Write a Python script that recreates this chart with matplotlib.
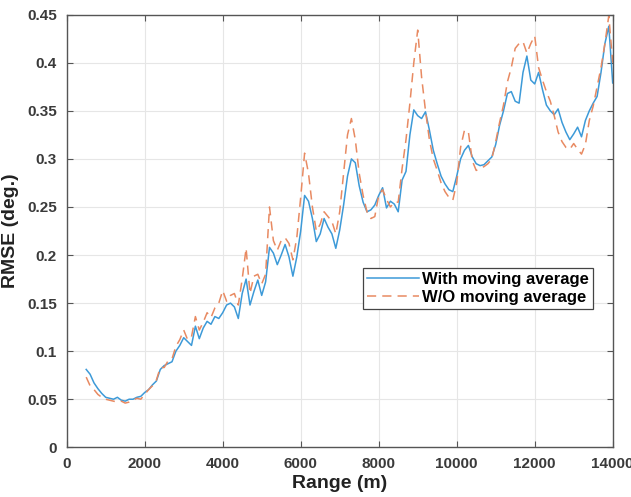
import numpy as np
import matplotlib
matplotlib.use('Agg')
import matplotlib.pyplot as plt

plt.rcParams['font.family'] = ['Liberation Sans', 'DejaVu Sans']

# range axis (m)
rng = np.arange(500, 14001, 100)

rmse_ma = [
    0.081, 0.076, 0.067, 0.061, 0.056, 0.052, 0.051, 0.050, 0.052, 0.049,
    0.048, 0.050, 0.050, 0.052, 0.053, 0.057, 0.060, 0.065, 0.069, 0.081,
    0.085, 0.087, 0.089, 0.100, 0.106, 0.114, 0.110, 0.106, 0.126, 0.113,
    0.124, 0.131, 0.128, 0.136, 0.134, 0.140, 0.148, 0.150, 0.146, 0.134,
    0.160, 0.175, 0.148, 0.162, 0.174, 0.158, 0.172, 0.208, 0.202, 0.190,
    0.200, 0.211, 0.198, 0.178, 0.198, 0.225, 0.262, 0.256, 0.238, 0.214,
    0.222, 0.238, 0.229, 0.222, 0.207, 0.226, 0.252, 0.282, 0.300, 0.296,
    0.272, 0.255, 0.245, 0.247, 0.252, 0.262, 0.270, 0.249, 0.256, 0.253,
    0.245, 0.278, 0.287, 0.325, 0.351, 0.345, 0.342, 0.349, 0.330, 0.309,
    0.295, 0.282, 0.274, 0.268, 0.266, 0.282, 0.300, 0.309, 0.314, 0.302,
    0.295, 0.293, 0.294, 0.298, 0.302, 0.315, 0.335, 0.350, 0.368, 0.370,
    0.360, 0.358, 0.390, 0.407, 0.382, 0.378, 0.390, 0.372, 0.356, 0.350,
    0.346, 0.352, 0.338, 0.328, 0.320, 0.326, 0.333, 0.323, 0.340, 0.350,
    0.358, 0.365, 0.390, 0.420, 0.438, 0.379,
]

rmse_raw = [
    0.073, 0.064, 0.060, 0.055, 0.052, 0.050, 0.049, 0.048, 0.047, 0.048,
    0.046, 0.047, 0.049, 0.051, 0.050, 0.055, 0.060, 0.064, 0.070, 0.083,
    0.083, 0.090, 0.092, 0.105, 0.112, 0.122, 0.112, 0.115, 0.136, 0.122,
    0.130, 0.140, 0.135, 0.145, 0.150, 0.163, 0.152, 0.158, 0.160, 0.148,
    0.175, 0.207, 0.160, 0.178, 0.180, 0.170, 0.180, 0.250, 0.215, 0.205,
    0.215, 0.218, 0.212, 0.195, 0.218, 0.260, 0.306, 0.285, 0.250, 0.225,
    0.232, 0.245, 0.240, 0.235, 0.222, 0.245, 0.285, 0.325, 0.342, 0.320,
    0.285, 0.262, 0.245, 0.238, 0.240, 0.262, 0.268, 0.258, 0.250, 0.255,
    0.255, 0.290, 0.320, 0.358, 0.400, 0.434, 0.385, 0.350, 0.320, 0.300,
    0.288, 0.275, 0.266, 0.260, 0.257, 0.275, 0.312, 0.330, 0.328, 0.298,
    0.288, 0.290, 0.292, 0.295, 0.300, 0.318, 0.338, 0.356, 0.380, 0.395,
    0.415, 0.420, 0.422, 0.410, 0.420, 0.428, 0.395, 0.382, 0.370, 0.360,
    0.345, 0.328, 0.318, 0.312, 0.310, 0.316, 0.310, 0.305, 0.315, 0.340,
    0.355, 0.375, 0.395, 0.420, 0.449, 0.400,
]

fig = plt.figure(figsize=(6.31, 4.97), dpi=100)
ax = fig.add_axes([0.1057, 0.1, 0.8653, 0.8704])

ax.plot(rng, rmse_ma, color='#3d9ad8', lw=1.1, label='With moving average')
ax.plot(rng, rmse_raw, color='#e88a62', lw=1.1, ls=(0, (6, 4)),
        label='W/O moving average')

ax.set_xlim(0, 14000)
ax.set_ylim(0, 0.45)
ax.set_xticks(np.arange(0, 14001, 2000))
ax.set_yticks(np.arange(0, 0.451, 0.05))
ax.set_yticklabels(['0', '0.05', '0.1', '0.15', '0.2', '0.25', '0.3', '0.35', '0.4', '0.45'])

ax.grid(True, color='#e6e6e6', lw=0.8)
ax.set_axisbelow(True)
ax.tick_params(direction='in', top=True, right=True, length=4, color='#555555',
               labelsize=11, labelcolor='#3a3a3a', pad=7)
for lbl in ax.get_xticklabels() + ax.get_yticklabels():
    lbl.set_fontweight('bold')
for s in ax.spines.values():
    s.set_color('#555555')
    s.set_linewidth(1.0)

ax.set_xlabel('Range (m)', fontsize=14, fontweight='bold', labelpad=3, color='#222222')
ax.set_ylabel('RMSE (deg.)', fontsize=14, fontweight='bold', labelpad=6, color='#222222')

leg = ax.legend(loc='upper right', bbox_to_anchor=(0.964, 0.4145),
                prop={'weight': 'bold', 'size': 12}, fancybox=False,
                framealpha=1, edgecolor='#444444', borderpad=0.25,
                handlelength=3.1, handletextpad=0.2, labelspacing=0.15,
                borderaxespad=0)
leg.get_frame().set_linewidth(0.9)

fig.savefig('out.png', dpi=100)
